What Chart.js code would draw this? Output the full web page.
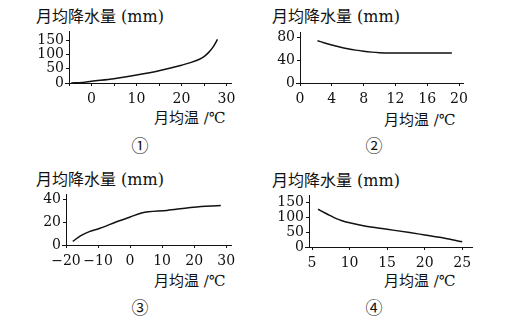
<!DOCTYPE html>
<html lang="zh">
<head>
<meta charset="UTF-8">
<title>月均温与月均降水量</title>
<script src="https://cdn.jsdelivr.net/npm/chart.js"></script>
<style>
    body {
        margin: 0;
        width: 528px;
        height: 325px;
        position: relative;
        overflow: hidden;
        background: #fff;
        color: #111;
        font-family: "DejaVu Serif", "Noto Sans CJK SC", serif;
    }
    canvas { position: absolute; }
    .lbl { position: absolute; white-space: nowrap; line-height: 1; }
    .ytitle { font-size: 16px; }
    .xtitle { font-size: 15px; }
    .num {
        font-family: "Noto Sans CJK SC", sans-serif;
        font-size: 17px;
        transform: translate(-50%, -50%);
    }
</style>
</head>
<body>
<div class="lbl ytitle" style="left:36px;top:9px">月均降水量 (mm)</div>
<div class="lbl ytitle" style="left:272px;top:9px">月均降水量 (mm)</div>
<div class="lbl ytitle" style="left:36px;top:172px">月均降水量 (mm)</div>
<div class="lbl ytitle" style="left:272px;top:173px">月均降水量 (mm)</div>

<div class="lbl xtitle" style="left:154px;top:111px">月均温 /℃</div>
<div class="lbl xtitle" style="left:384px;top:113px">月均温 /℃</div>
<div class="lbl xtitle" style="left:154px;top:274px">月均温 /℃</div>
<div class="lbl xtitle" style="left:384px;top:274px">月均温 /℃</div>

<div class="lbl num" style="left:140px;top:144px">①</div>
<div class="lbl num" style="left:374px;top:144px">②</div>
<div class="lbl num" style="left:140px;top:306px">③</div>
<div class="lbl num" style="left:374px;top:306px">④</div>

<script>
    // 月均温 (℃) / 月均降水量 (mm)
    const temp1 = [-4.5, -2, 0, 5, 10, 15, 20, 22, 24, 25, 26, 27, 28];
    const rain1 = [0, 2, 6, 15, 28, 43, 62, 71, 83, 92, 106, 125, 152];

    const temp2 = [2.2, 3, 4, 5, 6, 7, 8, 9, 10, 11, 13, 16, 19.1];
    const rain2 = [74, 70.5, 66.5, 63, 60, 57.5, 55.5, 54, 53, 52.5, 52.5, 52.5, 52.5];

    const temp3 = [-17.9, -15.5, -12.7, -9.4, -4.2, 0, 3.6, 11.5, 19.8, 28.3];
    const rain3 = [3.1, 8, 11.7, 14.6, 20.3, 24.5, 28, 30.3, 33.1, 34.6];

    const temp4 = [5.8, 7, 8, 9, 10, 12, 15, 18, 20, 22, 25];
    const rain4 = [128, 112, 99, 89, 82, 71, 60, 49, 41, 33, 18];

    // axis ranges and tick steps
    const xTicks1 = { min: -5, max: 31, step: 5, labelEvery: 10 };
    const yTicks1 = { min: 0, max: 180, step: 50 };
    const xTicks2 = { min: 0, max: 20.5, step: 4 };
    const yTicks2 = { min: 0, max: 88.5, step: 40 };
    const xTicks3 = { min: -20, max: 31.5, step: 10 };
    const yTicks3 = { min: 0, max: 44.3, step: 20 };
    const xTicks4 = { min: 4.6, max: 26.3, step: 5 };
    const yTicks4 = { min: 0, max: 175, step: 50 };

    const INK = '#111';
    const PAD_T = 10, PAD_R = 14, Y_W = 45, X_H = 32;
    const tickFont = { family: '"DejaVu Serif", serif', size: 14 };

    // short piece of the x axis poking out left of the y axis
    const axisStub = {
        id: 'axisStub',
        afterDraw(chart) {
            const { ctx, chartArea: a } = chart;
            const y = Math.round(a.bottom) + 0.5;
            ctx.save();
            ctx.strokeStyle = INK;
            ctx.lineWidth = 1;
            ctx.beginPath();
            ctx.moveTo(a.left - 4, y);
            ctx.lineTo(a.left, y);
            ctx.stroke();
            ctx.restore();
        }
    };

    function fmt(v) {
        return String(v).replace('-', '\u2212');
    }

    function drawPanel(area, temps, rains, xt, yt) {
        const cv = document.createElement('canvas');
        cv.width = Y_W + (area.right - area.left) + PAD_R;
        cv.height = PAD_T + (area.bottom - area.top) + X_H;
        cv.style.left = (area.left - Y_W) + 'px';
        cv.style.top = (area.top - PAD_T) + 'px';
        document.body.appendChild(cv);

        const axisCommon = {
            type: 'linear',
            grid: { drawOnChartArea: false, tickLength: 3, color: INK, tickColor: INK },
            border: { color: INK, width: 1 }
        };

        new Chart(cv, {
            type: 'line',
            data: {
                datasets: [{
                    data: temps.map((t, i) => ({ x: t, y: rains[i] })),
                    borderColor: INK,
                    borderWidth: 1.5,
                    pointRadius: 0,
                    cubicInterpolationMode: 'monotone',
                    fill: false
                }]
            },
            options: {
                responsive: false,
                animation: false,
                devicePixelRatio: 1,
                layout: { padding: { top: PAD_T, right: PAD_R, left: 0, bottom: 0 } },
                plugins: { legend: { display: false }, tooltip: { enabled: false } },
                scales: {
                    x: {
                        ...axisCommon,
                        min: xt.min,
                        max: xt.max,
                        afterFit: s => { s.height = X_H; },
                        ticks: {
                            stepSize: xt.step,
                            includeBounds: false,
                            autoSkip: false,
                            maxRotation: 0,
                            color: INK,
                            font: tickFont,
                            padding: 5,
                            callback: v => (xt.labelEvery && v % xt.labelEvery !== 0) ? '' : fmt(v)
                        }
                    },
                    y: {
                        ...axisCommon,
                        min: yt.min,
                        max: yt.max,
                        afterFit: s => { s.width = Y_W; },
                        ticks: {
                            stepSize: yt.step,
                            includeBounds: false,
                            autoSkip: false,
                            color: INK,
                            font: tickFont,
                            padding: 2,
                            callback: v => fmt(v)
                        }
                    }
                }
            },
            plugins: [axisStub]
        });
    }

    drawPanel({ left: 69, right: 231, top: 31, bottom: 83 }, temp1, rain1, xTicks1, yTicks1);
    drawPanel({ left: 300, right: 463, top: 32, bottom: 83 }, temp2, rain2, xTicks2, yTicks2);
    drawPanel({ left: 66, right: 231, top: 194, bottom: 245 }, temp3, rain3, xTicks3, yTicks3);
    drawPanel({ left: 309, right: 472, top: 195, bottom: 247 }, temp4, rain4, xTicks4, yTicks4);
</script>
</body>
</html>
